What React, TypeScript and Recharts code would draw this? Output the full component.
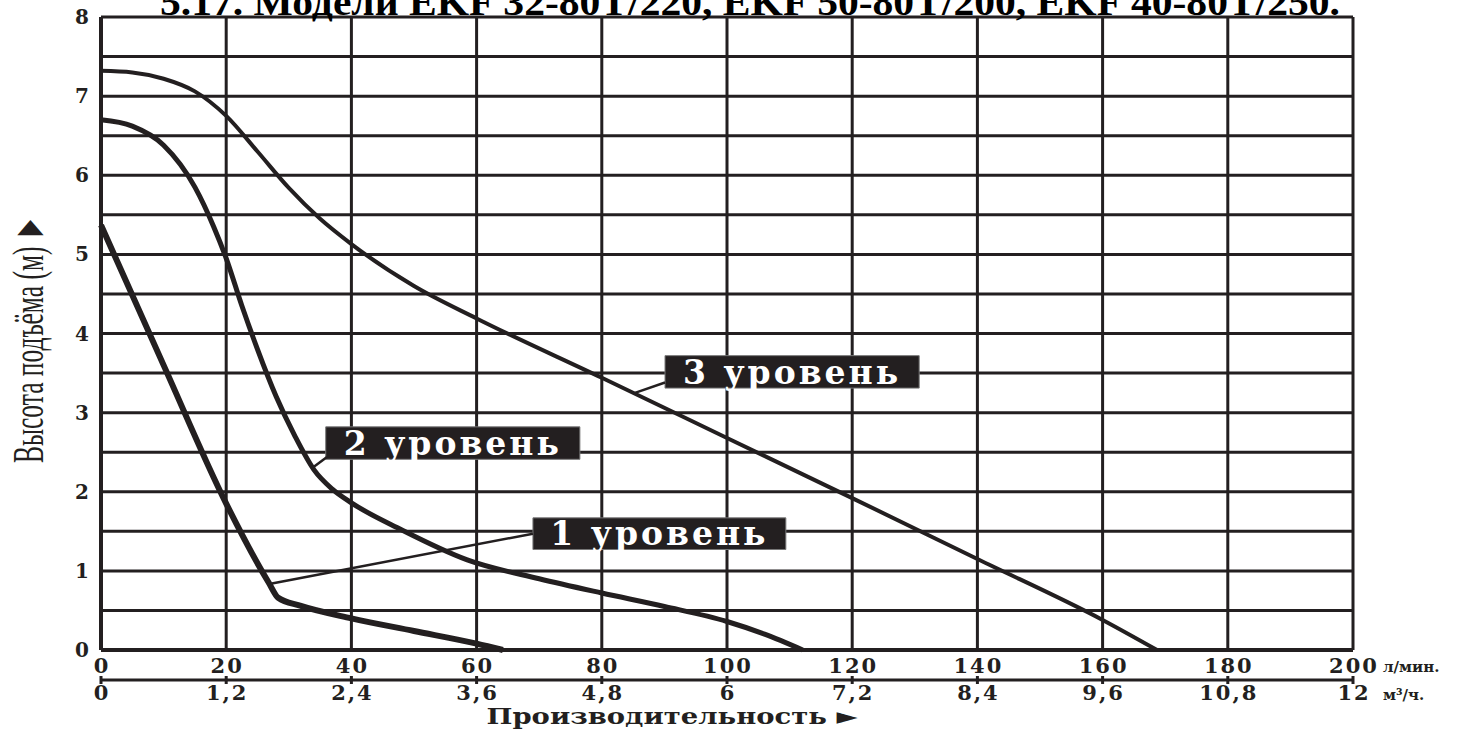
import React from "react";
import {
  LineChart,
  Line,
  XAxis,
  YAxis,
  CartesianGrid,
  ReferenceLine,
  ReferenceArea,
  Label,
} from "recharts";

// axis ticks
const FLOW_TICKS = [0, 20, 40, 60, 80, 100, 120, 140, 160, 180, 200]; // л/мин
const M3_TICKS = [0, 1.2, 2.4, 3.6, 4.8, 6, 7.2, 8.4, 9.6, 10.8, 12]; // м³/ч, same positions
const HEAD_TICKS = [0, 0.5, 1, 1.5, 2, 2.5, 3, 3.5, 4, 4.5, 5, 5.5, 6, 6.5, 7, 7.5, 8];

// pump curves (q in л/мин, h in м)
const LEVEL_1 = [
  { q: 0, h: 5.37 },
  { q: 10, h: 3.6 },
  { q: 20, h: 1.85 },
  { q: 26.8, h: 0.85 },
  { q: 28.3, h: 0.66 },
  { q: 31.8, h: 0.56 },
  { q: 40, h: 0.4 },
  { q: 50, h: 0.24 },
  { q: 60, h: 0.08 },
  { q: 64.2, h: 0 },
];

const LEVEL_2 = [
  { q: 0, h: 6.7 },
  { q: 5, h: 6.62 },
  { q: 10, h: 6.38 },
  { q: 15, h: 5.85 },
  { q: 18, h: 5.35 },
  { q: 20, h: 4.95 },
  { q: 22.5, h: 4.35 },
  { q: 25, h: 3.8 },
  { q: 28, h: 3.2 },
  { q: 31, h: 2.7 },
  { q: 34, h: 2.28 },
  { q: 37, h: 2.03 },
  { q: 40, h: 1.86 },
  { q: 48, h: 1.52 },
  { q: 58.5, h: 1.14 },
  { q: 70, h: 0.9 },
  { q: 80, h: 0.72 },
  { q: 90, h: 0.55 },
  { q: 100, h: 0.36 },
  { q: 106, h: 0.2 },
  { q: 112.1, h: 0 },
];

const LEVEL_3 = [
  { q: 0, h: 7.32 },
  { q: 5, h: 7.3 },
  { q: 10, h: 7.22 },
  { q: 15, h: 7.06 },
  { q: 20, h: 6.75 },
  { q: 25, h: 6.3 },
  { q: 30, h: 5.84 },
  { q: 35, h: 5.45 },
  { q: 40, h: 5.13 },
  { q: 50, h: 4.6 },
  { q: 60, h: 4.19 },
  { q: 80, h: 3.44 },
  { q: 100, h: 2.68 },
  { q: 120, h: 1.92 },
  { q: 140, h: 1.15 },
  { q: 160, h: 0.38 },
  { q: 168.7, h: 0 },
];

const INK = "#231f20";
const NUM_FONT = "'DejaVu Serif', serif";

const comma = (v: number) => String(v).replace(".", ",");

// l/min label, plus the matching m³/h mark and label on the scale below
const FlowTick = (props: any) => {
  const { x, y, payload, index } = props;
  const m3 = M3_TICKS[index];
  return (
    <g>
      <text
        x={x + 1}
        y={y + 23}
        textAnchor="middle"
        fontFamily={NUM_FONT}
        fontWeight="bold"
        fontSize={21}
        letterSpacing={2}
        fill={INK}
      >
        {payload.value}
      </text>
      {m3 !== undefined && (
        <>
          <line x1={x} x2={x} y1={y + 26} y2={y + 34} stroke={INK} strokeWidth={3} />
          <text
            x={x + 1}
            y={y + 50}
            textAnchor="middle"
            fontFamily={NUM_FONT}
            fontWeight="bold"
            fontSize={21}
            letterSpacing={2}
            fill={INK}
          >
            {comma(m3)}
          </text>
        </>
      )}
    </g>
  );
};

const boxLabel = (text: string) => (
  <Label
    value={text}
    position="center"
    fill="#ffffff"
    fontFamily={NUM_FONT}
    fontWeight="bold"
    fontSize={33}
    style={{ letterSpacing: 3 }}
  />
);

export default function App() {
  return (
    <div style={{ position: "absolute", left: 0, top: 0, width: 1464, height: 729, background: "#fff" }}>
      <LineChart
        width={1464}
        height={729}
        margin={{ top: 17, right: 111, bottom: 19, left: 0 }}
      >
        <CartesianGrid
          stroke={INK}
          strokeWidth={3}
          horizontal={{ stroke: "#333", strokeWidth: 2.5 }}
        />
        <XAxis
          dataKey="q"
          type="number"
          domain={[0, 200]}
          ticks={FLOW_TICKS}
          interval={0}
          height={30}
          tickSize={0}
          tickMargin={0}
          tickLine={false}
          axisLine={{ stroke: INK, strokeWidth: 4 }}
          tick={<FlowTick />}
        >
          <Label
            value="л/мин."
            position="right"
            offset={30}
            fontFamily={NUM_FONT}
            fontWeight="bold"
            fontSize={15}
            fill={INK}
            dy={2}
          />
        </XAxis>
        <XAxis
          xAxisId="m3"
          type="number"
          domain={[0, 12]}
          allowDataOverflow
          height={30}
          tick={false}
          tickLine={false}
          axisLine={{ stroke: INK, strokeWidth: 3 }}
        >
          <Label
            value="м³/ч."
            position="right"
            offset={30}
            fontFamily={NUM_FONT}
            fontWeight="bold"
            fontSize={15}
            fill={INK}
            dy={0}
          />
        </XAxis>
        <YAxis
          type="number"
          domain={[0, 8]}
          ticks={HEAD_TICKS}
          width={101}
          tickSize={0}
          tickMargin={12}
          tickLine={false}
          axisLine={{ stroke: INK, strokeWidth: 4 }}
          tickFormatter={(v: number) => (Number.isInteger(v) ? String(v) : "")}
          tick={{ fontFamily: NUM_FONT, fontWeight: "bold", fontSize: 20, fill: INK }}
        />

        <ReferenceLine segment={[{ x: 85.3, y: 3.25 }, { x: 90.1, y: 3.38 }]} stroke={INK} strokeWidth={2.5} />
        <ReferenceLine segment={[{ x: 33.9, y: 2.31 }, { x: 36.1, y: 2.44 }]} stroke={INK} strokeWidth={2.5} />
        <ReferenceLine segment={[{ x: 27.3, y: 0.84 }, { x: 69, y: 1.47 }]} stroke={INK} strokeWidth={2.5} />

        <ReferenceArea x1={90.1} x2={130.7} y1={3.31} y2={3.72} fill={INK} fillOpacity={1} stroke="#777" strokeWidth={1}>
          {boxLabel("3 уровень")}
        </ReferenceArea>
        <ReferenceArea x1={35.9} x2={76.5} y1={2.41} y2={2.82} fill={INK} fillOpacity={1} stroke="#777" strokeWidth={1}>
          {boxLabel("2 уровень")}
        </ReferenceArea>
        <ReferenceArea x1={69} x2={109.4} y1={1.27} y2={1.67} fill={INK} fillOpacity={1} stroke="#777" strokeWidth={1}>
          {boxLabel("1 уровень")}
        </ReferenceArea>

        <Line data={LEVEL_1} dataKey="h" type="monotone" stroke={INK} strokeWidth={6} dot={false} isAnimationActive={false} />
        <Line data={LEVEL_2} dataKey="h" type="monotone" stroke={INK} strokeWidth={5} dot={false} isAnimationActive={false} />
        <Line data={LEVEL_3} dataKey="h" type="monotone" stroke={INK} strokeWidth={4} dot={false} isAnimationActive={false} />
      </LineChart>

      <svg
        width={1464}
        height={729}
        style={{ position: "absolute", left: 0, top: 0, pointerEvents: "none" }}
      >
        <text
          x={750}
          y={15}
          textAnchor="middle"
          fontFamily="'Liberation Serif', serif"
          fontWeight="bold"
          fontSize={38}
          fill="#000"
          textLength={1180}
          lengthAdjust="spacingAndGlyphs"
        >
          5.17. Модели EKF 32-80T/220, EKF 50-80T/200, EKF 40-80T/250.
        </text>
        <text
          transform="translate(43 339) rotate(-90)"
          textAnchor="middle"
          fontFamily="'Liberation Serif', serif"
          fontSize={44}
          fill={INK}
          textLength={248}
          lengthAdjust="spacingAndGlyphs"
        >
          Высота подъёма (м) ►
        </text>
        <text
          x={672}
          y={724}
          textAnchor="middle"
          fontFamily={NUM_FONT}
          fontWeight="bold"
          fontSize={23}
          fill={INK}
          textLength={371}
          lengthAdjust="spacingAndGlyphs"
        >
          Производительность ►
        </text>
      </svg>
    </div>
  );
}
